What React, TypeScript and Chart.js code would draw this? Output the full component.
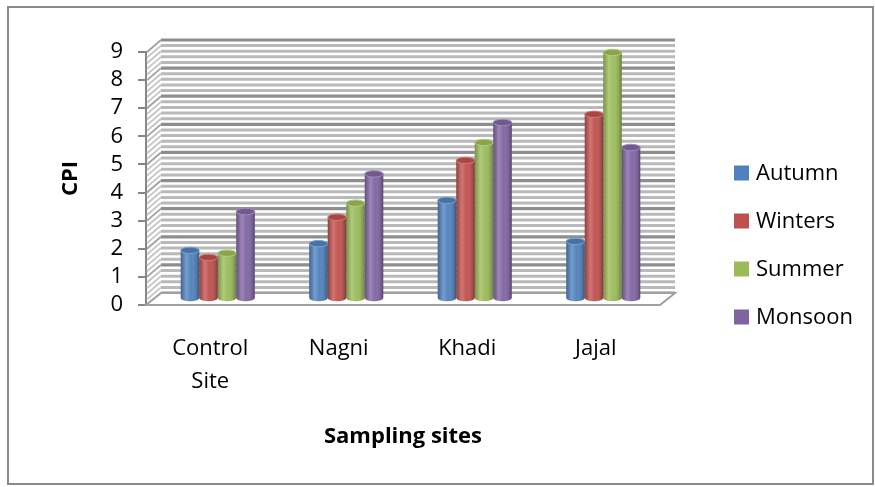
import React, { useEffect, useRef } from 'react';
import { Chart, registerables } from 'chart.js';

Chart.register(...registerables);

// ---- data ----
const categories: (string | string[])[] = [['Control', 'Site'], 'Nagni', 'Khadi', 'Jajal'];
const seriesNames = ['Autumn', 'Winters', 'Summer', 'Monsoon'];
const autumn = [1.73, 1.97, 3.51, 2.05];
const winters = [1.48, 2.91, 4.93, 6.57];
const summer = [1.63, 3.41, 5.57, 8.77];
const monsoon = [3.11, 4.45, 6.28, 5.39];
const seriesColors = ['#4F81BD', '#C0504D', '#9BBB59', '#8064A2'];
const yMin = 0;
const yMax = 9;
const yStep = 1;
const minorStep = 0.2;
const yTitle = 'CPI';
const xTitle = 'Sampling sites';

const FONT = "'Open Sans', 'Noto Sans', sans-serif";

// 3D offsets
const WALL_DX = 15;
const WALL_DY = -12;
const BAR_DX = 7.5;
const BAR_DY = -6;

function shade(hex: string, amt: number): string {
  const n = parseInt(hex.slice(1), 16);
  let r = (n >> 16) & 255, g = (n >> 8) & 255, b = n & 255;
  const t = amt < 0 ? 0 : 255;
  const p = Math.abs(amt);
  r = Math.round(r + (t - r) * p);
  g = Math.round(g + (t - g) * p);
  b = Math.round(b + (t - b) * p);
  return `rgb(${r},${g},${b})`;
}

const threeD = {
  id: 'threeD',
  beforeDraw(chart: any) {
    const ctx: CanvasRenderingContext2D = chart.ctx;
    ctx.save();
    ctx.fillStyle = '#ffffff';
    ctx.fillRect(0, 0, chart.width, chart.height);
    ctx.strokeStyle = '#8a8a8a';
    ctx.lineWidth = 2;
    ctx.strokeRect(8, 7, 865, 477);
    ctx.restore();
  },
  beforeDatasetsDraw(chart: any) {
    const ctx: CanvasRenderingContext2D = chart.ctx;
    const a = chart.chartArea;
    const y = chart.scales.y;
    ctx.save();
    ctx.lineCap = 'butt';
    const count = Math.round((yMax - yMin) / minorStep);
    for (let i = 0; i <= count; i++) {
      const v = yMin + i * minorStep;
      const py = y.getPixelForValue(v);
      const major = i % Math.round(yStep / minorStep) === 0;
      ctx.strokeStyle = major ? '#8e8e8e' : '#b9b9b9';
      ctx.lineWidth = major ? 3.2 : 3;
      ctx.beginPath();
      ctx.moveTo(a.left + WALL_DX, py + WALL_DY);
      ctx.lineTo(a.right + WALL_DX, py + WALL_DY);
      ctx.stroke();
      ctx.strokeStyle = major ? '#a0a0a0' : '#c4c4c4';
      ctx.lineWidth = 1.8;
      ctx.beginPath();
      ctx.moveTo(a.left + 1, py);
      ctx.lineTo(a.left + WALL_DX, py + WALL_DY);
      ctx.stroke();
    }
    // floor
    const b = a.bottom;
    ctx.beginPath();
    ctx.moveTo(a.left, b);
    ctx.lineTo(a.right, b);
    ctx.lineTo(a.right + WALL_DX, b + WALL_DY);
    ctx.lineTo(a.left + WALL_DX, b + WALL_DY);
    ctx.closePath();
    ctx.fillStyle = '#ffffff';
    ctx.fill();
    ctx.strokeStyle = '#a0a0a0';
    ctx.lineWidth = 2;
    ctx.stroke();
    ctx.restore();

    ctx.save();
    ctx.translate(BAR_DX, BAR_DY);
  },
  afterDatasetsDraw(chart: any) {
    const ctx: CanvasRenderingContext2D = chart.ctx;
    chart.data.datasets.forEach((ds: any, di: number) => {
      const meta = chart.getDatasetMeta(di);
      const color = ds.backgroundColor as string;
      meta.data.forEach((el: any) => {
        const x = el.x, top = el.y, base = el.base, w = el.width;
        const l = x - w / 2;
        const ry = 3.2;
        ctx.fillStyle = color;
        ctx.beginPath();
        ctx.ellipse(x, base, w / 2, ry, 0, 0, Math.PI);
        ctx.fill();
        const g = ctx.createLinearGradient(l, 0, l + w, 0);
        g.addColorStop(0, 'rgba(0,0,0,0.22)');
        g.addColorStop(0.3, 'rgba(255,255,255,0.22)');
        g.addColorStop(0.55, 'rgba(255,255,255,0.04)');
        g.addColorStop(1, 'rgba(0,0,0,0.32)');
        ctx.fillStyle = g;
        ctx.beginPath();
        ctx.moveTo(l, top);
        ctx.lineTo(l, base);
        ctx.ellipse(x, base, w / 2, ry, 0, Math.PI, 0, true);
        ctx.lineTo(l + w, top);
        ctx.closePath();
        ctx.fill();
        ctx.beginPath();
        ctx.ellipse(x, top, w / 2, ry, 0, 0, Math.PI * 2);
        ctx.fillStyle = shade(color, -0.12);
        ctx.fill();
        ctx.strokeStyle = shade(color, 0.25);
        ctx.lineWidth = 1;
        ctx.stroke();
      });
    });
    ctx.restore();
  },
  afterDraw(chart: any) {
    const ctx: CanvasRenderingContext2D = chart.ctx;
    ctx.save();
    ctx.font = `22px ${FONT}`;
    ctx.textBaseline = 'middle';
    ctx.textAlign = 'left';
    chart.data.datasets.forEach((ds: any, i: number) => {
      const cy = 173 + i * 48;
      ctx.fillStyle = ds.backgroundColor;
      ctx.fillRect(734, cy - 7.5, 15, 15);
      ctx.fillStyle = '#000000';
      ctx.fillText(ds.label, 756, cy + 1);
    });
    ctx.restore();
  },
};

export default function App() {
  const ref = useRef<HTMLCanvasElement | null>(null);
  useEffect(() => {
    if (!ref.current) return;
    const values = [autumn, winters, summer, monsoon];
    const chart = new Chart(ref.current, {
      type: 'bar',
      data: {
        labels: categories as any,
        datasets: seriesNames.map((name, i) => ({
          label: name,
          data: values[i],
          backgroundColor: seriesColors[i],
          borderWidth: 0,
          barPercentage: 1,
          categoryPercentage: 0.576,
          clip: false as any,
        })),
      },
      options: {
        responsive: false,
        animation: false,
        devicePixelRatio: 1,
        layout: { padding: { left: 0, right: 215, top: 52, bottom: 0 } },
        plugins: {
          legend: { display: false },
          tooltip: { enabled: false },
        },
        scales: {
          x: {
            afterFit(scale: any) {
              scale.height = 182;
            },
            grid: { display: false },
            border: { display: false },
            ticks: {
              color: '#000000',
              padding: 19,
              font: { family: FONT, size: 22, lineHeight: 1.5 },
              maxRotation: 0,
              autoSkip: false,
            },
            title: {
              display: true,
              text: xTitle,
              color: '#000000',
              font: { family: FONT, size: 22, weight: 'bold', lineHeight: 1.2 },
              padding: { top: 0, bottom: 37 },
            },
          },
          y: {
            min: yMin,
            max: yMax,
            afterFit(scale: any) {
              scale.width = 146;
            },
            grid: {
              drawOnChartArea: false,
              drawTicks: true,
              tickLength: 8,
              color: '#868686',
              lineWidth: 2,
            },
            border: { display: true, color: '#868686', width: 2 },
            ticks: {
              stepSize: yStep,
              autoSkip: false,
              color: '#000000',
              padding: 15,
              font: { family: FONT, size: 22 },
            },
            title: {
              display: true,
              text: yTitle,
              color: '#000000',
              font: { family: FONT, size: 22, weight: 'bold', lineHeight: 1.2 },
              padding: { top: 58, bottom: 0 },
            },
          },
        },
      },
      plugins: [threeD],
    });
    return () => chart.destroy();
  }, []);
  return (
    <div style={{ position: 'fixed', left: 0, top: 0, width: 875, height: 487, background: '#fff' }}>
      <canvas ref={ref} width={875} height={487} style={{ display: 'block' }} />
    </div>
  );
}
